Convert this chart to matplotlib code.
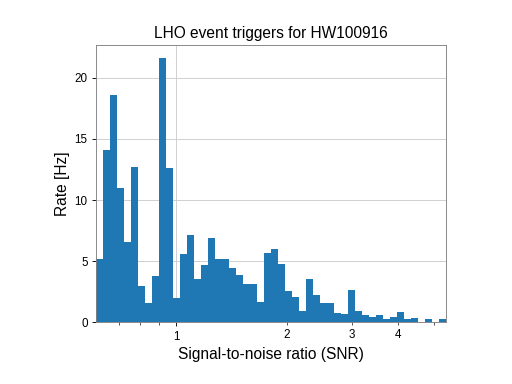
import numpy as np
import matplotlib
matplotlib.use('Agg')
import matplotlib.pyplot as plt
from matplotlib.ticker import FixedLocator, FixedFormatter

plt.rcParams['font.family'] = ['Liberation Sans', 'DejaVu Sans']

# histogram of SNR, 50 log-spaced bins
snr_min = 0.607
snr_max = 5.40
nbins = 50
rate = [5.15, 14.1, 18.6, 11.0, 6.6, 12.7, 3.0, 1.6, 3.8, 21.6,
        12.6, 2.0, 5.6, 7.1, 3.5, 4.7, 6.9, 5.15, 5.15, 4.4,
        3.85, 3.1, 3.1, 1.63, 5.7, 6.0, 4.75, 2.55, 2.06, 0.92,
        3.5, 2.2, 1.57, 1.57, 0.76, 0.68, 2.6, 0.92, 0.6, 0.43,
        0.6, 0.27, 0.43, 0.84, 0.27, 0.35, 0.0, 0.27, 0.0, 0.27]

edges = np.logspace(np.log10(snr_min), np.log10(snr_max), nbins + 1)

fig = plt.figure(figsize=(6.4, 4.8), dpi=80)
ax = fig.add_axes([0.1875, 0.161, 0.6836, 0.722])
ax.bar(edges[:-1], rate, width=np.diff(edges), align='edge',
       color='#1f77b4', linewidth=0, zorder=2)

ax.set_xscale('log')
ax.set_xlim(snr_min, snr_max)
ax.set_ylim(0, 22.7)

ax.xaxis.set_major_locator(FixedLocator([1]))
ax.xaxis.set_major_formatter(FixedFormatter(['1']))
ax.xaxis.set_minor_locator(FixedLocator([0.7, 0.8, 0.9, 2, 3, 4, 5]))
ax.xaxis.set_minor_formatter(FixedFormatter(['', '', '', '2', '3', '4', '']))
ax.set_yticks([0, 5, 10, 15, 20])

ax.tick_params(which='both', direction='out', labelsize=10.5, colors='black')
ax.tick_params(which='major', length=4)
ax.tick_params(which='minor', length=2.5)
ax.grid(True, which='major', color='#cccccc', linewidth=0.8, zorder=0)
ax.set_axisbelow(True)
for side in ['left', 'bottom', 'right', 'top']:
    ax.spines[side].set_color('#808080')

ax.set_xlabel('Signal-to-noise ratio (SNR)', fontsize=14)
ax.set_ylabel('Rate [Hz]', fontsize=14)
ax.set_title('LHO event triggers for HW100916', fontsize=14)

fig.savefig('out.png', dpi=80)
